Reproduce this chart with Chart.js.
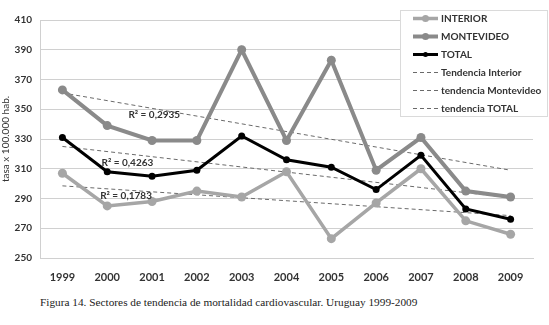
<!DOCTYPE html>
<html>
<head>
<meta charset="utf-8">
<script src="https://cdn.jsdelivr.net/npm/chart.js@4.4.0/dist/chart.umd.min.js"></script>
<style>
  body { margin: 0; background: #fff; }
  #wrap { position: relative; width: 549px; height: 325px; }
  #chartBox { position: absolute; left: 0; top: 0; width: 549px; height: 287px; }
  #caption {
    position: absolute; left: 40px; top: 296px;
    font-family: "Liberation Serif", "DejaVu Serif", serif;
    font-size: 11.3px; color: #222; white-space: nowrap;
  }
</style>
</head>
<body>
<div id="wrap">
  <div id="chartBox"><canvas id="chart"></canvas></div>
  <div id="caption">Figura 14. Sectores de tendencia de mortalidad cardiovascular. Uruguay 1999-2009</div>
</div>
<script>
const years = ["1999", "2000", "2001", "2002", "2003", "2004", "2005", "2006", "2007", "2008", "2009"];

const interior = [307, 285, 288, 295, 291, 308, 263, 287, 310, 275, 266];
const montevideo = [363, 339, 329, 329, 390, 329, 383, 309, 331, 295, 291];
const total = [331, 308, 305, 309, 332, 316, 311, 296, 319, 283, 276];

// trend lines, value at 1999 and at 2009 (straight line between)
const trendInterior = [298.5, 278.5];
const trendMontevideo = [361, 309];
const trendTotal = [325, 290.5];

const r2Values = ["0,2935", "0,4263", "0,1783"];

const yMin = 250;
const yMax = 410;
const yStep = 20;

const GREY_DARK = "#8a8a8a";
const GREY_LIGHT = "#a6a6a6";
const TREND = "#6a6a6a";

function ends(v) {
  return [
    { x: years[0], y: v[0] },
    { x: years[years.length - 1], y: v[1] },
  ];
}

function trendSet(label, v) {
  return {
    label,
    data: ends(v),
    borderColor: TREND,
    borderWidth: 1,
    borderDash: [4, 3],
    pointRadius: 0,
    fill: false,
    kind: "trend",
  };
}

// R² texts, placed in data units (category index, value)
const r2Plugin = {
  id: "r2",
  afterDatasetsDraw(chart) {
    const { ctx, scales } = chart;
    const spots = [
      { x: 2.05, y: 346.5 },
      { x: 1.45, y: 314 },
      { x: 1.42, y: 292 },
    ];
    ctx.save();
    ctx.font = "bold 10px Lato";
    ctx.fillStyle = "#333";
    ctx.textAlign = "center";
    ctx.textBaseline = "middle";
    r2Values.forEach((r, i) => {
      const px = scales.x.getPixelForValue(spots[i].x);
      const py = scales.y.getPixelForValue(spots[i].y);
      ctx.fillText("R² = " + r, px, py);
    });
    ctx.restore();
  },
};

// boxed legend sitting over the top right of the plot
const legendPlugin = {
  id: "boxLegend",
  afterDraw(chart) {
    const { ctx } = chart;
    const bx = 400, by = 10, bw = 148, bh = 107;
    ctx.save();
    ctx.fillStyle = "#fff";
    ctx.fillRect(bx, by, bw, bh);
    ctx.strokeStyle = "#dadada";
    ctx.lineWidth = 1;
    ctx.strokeRect(bx + 0.5, by + 0.5, bw - 1, bh - 1);

    ctx.font = "bold 10px Lato";
    ctx.textBaseline = "middle";
    ctx.fillStyle = "#333";
    chart.data.datasets.forEach((ds, i) => {
      const y = by + 8.5 + i * 18;
      const x0 = bx + 13, x1 = bx + 38;
      ctx.beginPath();
      ctx.strokeStyle = ds.borderColor;
      ctx.lineWidth = ds.kind === "trend" ? 1 : ds.borderWidth;
      ctx.setLineDash(ds.kind === "trend" ? [4, 3] : []);
      ctx.moveTo(x0, y);
      ctx.lineTo(x1, y);
      ctx.stroke();
      ctx.setLineDash([]);
      if (ds.kind !== "trend") {
        ctx.beginPath();
        ctx.fillStyle = ds.pointBackgroundColor;
        ctx.arc((x0 + x1) / 2, y, ds.pointRadius - 1, 0, Math.PI * 2);
        ctx.fill();
      }
      ctx.fillStyle = "#333";
      ctx.fillText(ds.label, x1 + 3, y);
    });
    ctx.restore();
  },
};

Chart.defaults.font.family = "Lato";
Chart.defaults.color = "#333";

new Chart(document.getElementById("chart"), {
  type: "line",
  data: {
    labels: years,
    datasets: [
      {
        label: "INTERIOR",
        data: interior,
        borderColor: GREY_LIGHT,
        backgroundColor: GREY_LIGHT,
        pointBackgroundColor: GREY_LIGHT,
        pointBorderWidth: 0,
        borderWidth: 3.5,
        pointRadius: 4.5,
        kind: "series",
      },
      {
        label: "MONTEVIDEO",
        data: montevideo,
        borderColor: GREY_DARK,
        backgroundColor: GREY_DARK,
        pointBackgroundColor: GREY_DARK,
        pointBorderWidth: 0,
        borderWidth: 4,
        pointRadius: 4.5,
        kind: "series",
      },
      {
        label: "TOTAL",
        data: total,
        borderColor: "#000",
        backgroundColor: "#000",
        pointBackgroundColor: "#000",
        pointBorderWidth: 0,
        borderWidth: 3,
        pointRadius: 3.5,
        kind: "series",
      },
      trendSet("Tendencia Interior", trendInterior),
      trendSet("tendencia Montevideo", trendMontevideo),
      trendSet("tendencia TOTAL", trendTotal),
    ],
  },
  options: {
    responsive: true,
    maintainAspectRatio: false,
    animation: false,
    layout: { padding: { top: 20, right: 16, left: 0, bottom: 0 } },
    plugins: {
      legend: { display: false },
      tooltip: { enabled: false },
    },
    scales: {
      x: {
        offset: true,
        grid: { display: false },
        border: { color: "#d0d0d0" },
        ticks: { font: { size: 11, weight: "bold" }, padding: 5 },
        afterFit: (s) => { s.height = 29; },
      },
      y: {
        min: yMin,
        max: yMax,
        ticks: { stepSize: yStep, font: { size: 10, weight: "bold" }, padding: 8 },
        grid: { color: "#d0d0d0", drawTicks: false },
        border: { color: "#d0d0d0" },
        title: {
          display: true,
          text: "tasa x 100.000 hab.",
          font: { size: 10 },
          padding: 0,
        },
        afterFit: (s) => { s.width = 40; },
      },
    },
  },
  plugins: [r2Plugin, legendPlugin],
});
</script>
</body>
</html>
